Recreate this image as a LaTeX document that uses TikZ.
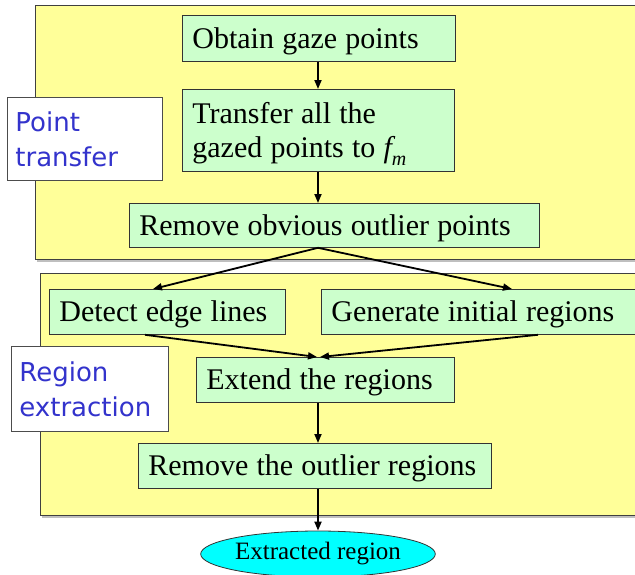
\documentclass[tikz,border=0pt]{standalone}
\usepackage{fontspec}
\setmainfont{Liberation Serif}
\newfontfamily\blufont{DejaVu Sans}
\usetikzlibrary{shapes.geometric,arrows.meta,calc}
\definecolor{panelyellow}{RGB}{255,255,153}
\definecolor{boxgreen}{RGB}{204,255,204}
\definecolor{labelblue}{RGB}{51,51,204}
\definecolor{ellcyan}{RGB}{0,255,255}
\newlength{\boxwordgap}
\setlength{\boxwordgap}{8.2pt}
\begin{document}
\begin{tikzpicture}[x=1pt,y=-1pt,
  panel/.style={draw=black!75,fill=panelyellow,line width=0.9pt},
  greenbox/.style={draw=black!80,fill=boxgreen,line width=0.8pt,anchor=north west,
    inner xsep=10pt,inner ysep=0pt,align=left,text height=21pt,text depth=1pt,
    font=\fontsize{30}{34}\selectfont,
    execute at begin node={\spaceskip=\boxwordgap}},
  labelbox/.style={draw=black!70,fill=white,line width=0.8pt,anchor=north west,
    inner xsep=8pt,inner ysep=0pt,align=left,text=labelblue,
    font=\blufont\fontsize{26}{35}\selectfont},
  arr/.style={-{Triangle[length=9pt,width=7pt]},line width=1.8pt,black},
  ell/.style={ellipse,draw=black!80,fill=ellcyan,line width=0.8pt,
    minimum width=214pt,minimum height=46pt,inner sep=0pt,
    font=\fontsize{25}{30}\selectfont}]
\useasboundingbox (0,0) rectangle (635,574);
\clip (0,0) rectangle (635,574);
% panels
\fill[black!25] (37,259) rectangle (645,262);
\draw[panel] (35,5) rectangle (645,259);
\fill[black!25] (42,515) rectangle (645,518);
\draw[panel] (40,273) rectangle (645,515);
% section labels
\node[labelbox,text width=139pt,minimum height=83pt] (lpt) at (7,97) {Point\\transfer};
\node[labelbox,text width=141pt,minimum height=85pt] (lre) at (11,346) {Region\\extraction};
% process boxes
\node[greenbox,text width=253pt,minimum height=46pt] (obt) at (182,15) {\mbox{Obtain gaze points}};
\node[greenbox,text width=252pt,minimum height=82pt,text depth=35pt] (tra) at (182,89)
  {Transfer all the\\gazed points to {\itshape f}\raisebox{-0.28em}{\fontsize{20}{20}\selectfont\itshape m}};
\node[greenbox,text width=390pt,minimum height=44pt] (rop) at (129,203) {\mbox{Remove obvious outlier points}};
\node[greenbox,text width=216pt,minimum height=45pt] (det) at (49,289) {\mbox{Detect edge lines}};
\node[greenbox,text width=300pt,minimum height=45pt] (gen) at (321,289) {\mbox{Generate initial regions}};
\node[greenbox,text width=238pt,minimum height=45pt] (ext) at (196,357) {\mbox{Extend the regions}};
\node[greenbox,text width=333pt,minimum height=45pt] (rem) at (138,443) {\mbox{Remove the outlier regions}};
\node[ell] (res) at (318,554) {Extracted region};
% connectors
\coordinate (forkA) at ($(rop.south west)+(189,0)$);
\draw[arr] ($(obt.south west)+(136,0)$) -- ($(tra.north west)+(136,0)$);
\draw[arr] ($(tra.south west)+(136,0)$) -- ($(rop.north west)+(189,0)$);
\draw[arr] (forkA) -- ($(det.north west)+(104,0)$);
\draw[arr] (forkA) -- ($(gen.north west)+(191,0)$);
\draw[arr] ($(det.south west)+(96,0)$) -- ($(ext.north west)+(121,0)$);
\draw[arr] ($(gen.south west)+(217,0)$) -- ($(ext.north west)+(124,0)$);
\draw[arr] ($(ext.south west)+(122,0)$) -- ($(rem.north west)+(180,0)$);
\draw[arr] ($(rem.south west)+(180,0)$) -- (res.north);
\end{tikzpicture}
\end{document}
